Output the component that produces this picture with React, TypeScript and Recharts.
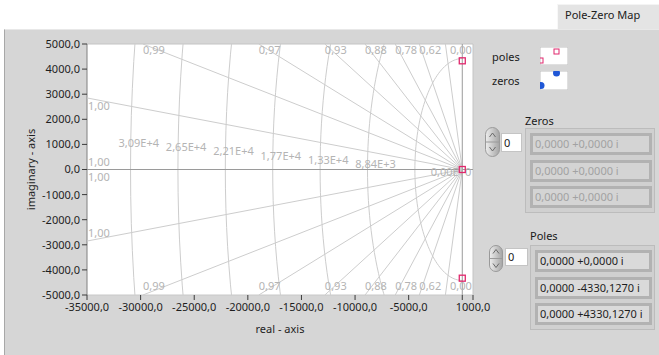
import React from "react";
import {
  ScatterChart,
  Scatter,
  XAxis,
  YAxis,
  CartesianGrid,
  ReferenceLine,
} from "recharts";

// poles / zeros of the system
const POLE_RE = [0, 0, 0];
const POLE_IM = [0, -4330.127, 4330.127];
const ZERO_TEXT = ["0,0000 +0,0000 i", "0,0000 +0,0000 i", "0,0000 +0,0000 i"];
const POLE_TEXT = ["0,0000 +0,0000 i", "0,0000 -4330,1270 i", "0,0000 +4330,1270 i"];

// constant damping ratio grid (radial lines) and their labels
const DAMPING = [1, 0.9967, 0.9862, 0.967, 0.9316, 0.8757, 0.781, 0.625, 0.3, 0];
const DAMPING_LABELS = ["1,00", "1,00", "0,99", "0,97", "0,93", "0,88", "0,78", "0,62", "", "0,00"];

// constant natural frequency grid (arcs)
const FREQ_RADII = [4420, 8840, 13260, 17680, 22100, 26520, 30940];
const FREQ_LABELLED = [0, 8840, 13260, 17680, 22100, 26520, 30940];

const X_TICKS = [-35000, -30000, -25000, -20000, -15000, -10000, -5000, 0, 1000];
const Y_TICKS = [-5000, -4000, -3000, -2000, -1000, 0, 1000, 2000, 3000, 4000, 5000];

const X_MIN = -35000;
const X_MAX = 1000;
const Y_MIN = -5000;
const Y_MAX = 5000;

const GRID = "#cdcdcd";
const AXIS0 = "#9a9a9a";
const GRID_TEXT = "#b4b4b4";
const POLE_COLOR = "#e0276c";
const PANEL = "#d6d6d6";

const fmt = (v: number) => v.toFixed(1).replace(".", ",");
const fmtExp = (v: number) => {
  const [m, e] = v.toExponential(2).split("e");
  return `${m.replace(".", ",")}E${e}`;
};

// where a damping line leaves the plot
function dampingEnd(z: number) {
  const th = Math.acos(z);
  const c = Math.cos(th);
  const s = Math.sin(th);
  const tx = c > 1e-9 ? -X_MIN / c : Infinity;
  const ty = s > 1e-9 ? Y_MAX / s : Infinity;
  const t = Math.min(tx, ty);
  return { x: -t * c, y: t * s, edge: ty <= tx ? "tb" : "left" };
}

function arcPoints(r: number) {
  const pts = [];
  for (let a = 90; a <= 270; a += 2) {
    const rad = (a * Math.PI) / 180;
    pts.push({ x: r * Math.cos(rad), y: r * Math.sin(rad) });
  }
  return pts;
}

const NoDot = () => <g />;

const PLOT_RIGHT = 473;

function DampLabel(props: any) {
  const { cx, cy, payload } = props;
  if (!payload.text) return <g />;
  let x = cx + 1;
  let y = cy;
  if (payload.edge === "tb") {
    x = Math.min(cx, PLOT_RIGHT - 23);
    y = payload.upper ? cy + 10 : cy - 5;
  } else if (payload.axis) {
    y = payload.upper ? cy - 4 : cy + 11;
  } else {
    y = payload.upper ? cy + 12 : cy - 4;
  }
  return (
    <text x={x} y={y} fill={GRID_TEXT} fontSize={11}>
      {payload.text}
    </text>
  );
}

function FreqLabel(props: any) {
  const { cx, cy, payload } = props;
  const x = Math.min(cx + 8, PLOT_RIGHT - 22);
  return (
    <text x={x} y={cy + 6.5} fill={GRID_TEXT} fontSize={11} textAnchor="middle">
      {payload.text}
    </text>
  );
}

function PoleMark(props: any) {
  const { cx, cy } = props;
  return (
    <rect x={cx - 3} y={cy - 3} width={6} height={6} fill="none" stroke={POLE_COLOR} strokeWidth={1.3} />
  );
}

function Spinner({ w, h }: { w: number; h: number }) {
  return (
    <svg width={w} height={h} style={{ display: "block" }}>
      <defs>
        <linearGradient id={`sg${w}${h}`} x1="0" x2="1" y1="0" y2="0">
          <stop offset="0" stopColor="#eeeeee" />
          <stop offset="1" stopColor="#a4a4a4" />
        </linearGradient>
      </defs>
      <rect x={0.5} y={0.5} width={w - 1} height={h - 1} rx={(w - 1) / 2} fill={`url(#sg${w}${h})`} stroke="#9a9a9a" />
      <line x1={1} x2={w - 1} y1={h / 2} y2={h / 2} stroke="#9a9a9a" />
      <path d={`M${w / 2 - 3} ${h / 2 - 5} L${w / 2} ${h / 2 - 9} L${w / 2 + 3} ${h / 2 - 5}`} fill="none" stroke="#6a6a6a" />
      <path d={`M${w / 2 - 3} ${h / 2 + 5} L${w / 2} ${h / 2 + 9} L${w / 2 + 3} ${h / 2 + 5}`} fill="none" stroke="#6a6a6a" />
    </svg>
  );
}

function Cell({ left, top, width, text, dim }: { left: number; top: number; width: number; text: string; dim?: boolean }) {
  return (
    <div
      style={{
        position: "absolute",
        left,
        top,
        width: width - 6,
        height: 22 - 6,
        border: "3px solid #b2b2b2",
        background: dim ? "#d4d4d4" : "#dadada",
        color: dim ? "#a2a2a2" : "#1e1e1e",
        fontSize: 11,
        lineHeight: "16px",
        textIndent: 2,
        whiteSpace: "nowrap",
      }}
    >
      {text}
    </div>
  );
}

export default function App() {
  const damp = DAMPING.map((z, i) => ({ z, text: DAMPING_LABELS[i], ...dampingEnd(z) }));

  const dampLabels = damp.flatMap((d) => [
    { x: d.x, y: d.y, text: d.text, edge: d.edge, upper: true, axis: d.z === 1 },
    { x: d.x, y: -d.y, text: d.text, edge: d.edge, upper: false, axis: d.z === 1 },
  ]);

  const alpha = (2.13 * Math.PI) / 180;
  const freqLabels = FREQ_LABELLED.map((r) => ({
    x: -r * Math.cos(alpha),
    y: r * Math.sin(alpha),
    text: fmtExp(r),
  }));

  const poles = POLE_RE.map((re, i) => ({ x: re, y: POLE_IM[i] }));

  const txt = { position: "absolute" as const, fontSize: 11, color: "#1a1a1a", whiteSpace: "nowrap" as const };

  return (
    <div
      style={{
        position: "fixed",
        left: 0,
        top: 0,
        width: 659,
        height: 355,
        background: "#ffffff",
        overflow: "hidden",
        fontFamily: "'Noto Sans', sans-serif",
      }}
    >
      {/* tab */}
      <div
        style={{
          position: "absolute",
          left: 557,
          top: 4,
          width: 102,
          height: 26,
          background: "#e4e4e4",
          borderTop: "1px solid #f4f4f4",
          borderLeft: "1px solid #f8f8f8",
          boxSizing: "border-box",
        }}
      />
      <div style={{ ...txt, left: 565, top: 7, color: "#202020" }}>Pole-Zero Map</div>
      {/* panel */}
      <div
        style={{
          position: "absolute",
          left: 4,
          top: 29,
          width: 655,
          height: 326,
          background: PANEL,
          borderLeft: "1px solid #a8a8a8",
          borderTop: "1px solid #e8e8e8",
          boxSizing: "border-box",
        }}
      />

      <div style={{ position: "absolute", left: 0, top: 0 }}>
        <ScatterChart width={500} height={338} margin={{ top: 44, right: 27, bottom: 5, left: 7 }}>
          <CartesianGrid fill="#ffffff" horizontal={false} vertical={false} />
          <XAxis
            type="number"
            dataKey="x"
            domain={[X_MIN, X_MAX]}
            ticks={X_TICKS}
            interval={0}
            allowDataOverflow
            tickFormatter={(v: number) => (v === 0 ? "" : fmt(v))}
            tick={{ fill: "#1e1e1e", fontSize: 11 }}
            tickSize={5}
            tickMargin={3}
            axisLine={{ stroke: "#c8c8c8" }}
            tickLine={{ stroke: "#3a3a3a" }}
            height={38}
            label={{ value: "real - axis", position: "insideBottom", offset: 0, fill: "#1e1e1e", fontSize: 11 }}
          />
          <YAxis
            type="number"
            dataKey="y"
            domain={[Y_MIN, Y_MAX]}
            ticks={Y_TICKS}
            interval={0}
            allowDataOverflow
            tickFormatter={fmt}
            tick={{ fill: "#1e1e1e", fontSize: 11 }}
            tickSize={5}
            axisLine={{ stroke: "#808080" }}
            tickLine={{ stroke: "#3a3a3a" }}
            width={80}
            label={{
              value: "imaginary - axis",
              angle: -90,
              position: "insideLeft",
              offset: 24,
              fill: "#1e1e1e",
              fontSize: 11,
              style: { textAnchor: "middle" },
            }}
          />
          <ReferenceLine y={Y_MAX} stroke="#c4c4c4" />
          <ReferenceLine x={X_MAX} stroke="#c4c4c4" />

          {FREQ_RADII.map((r) => (
            <Scatter
              key={`arc${r}`}
              data={arcPoints(r)}
              line={{ stroke: GRID, strokeWidth: 1 }}
              shape={NoDot}
              isAnimationActive={false}
            />
          ))}
          {damp.map((d, i) =>
            [1, -1].map((sgn) => (
              <Scatter
                key={`z${i}${sgn}`}
                data={[
                  { x: 0, y: 0 },
                  { x: d.x, y: sgn * d.y },
                ]}
                line={{ stroke: d.z === 1 || d.z === 0 ? AXIS0 : GRID, strokeWidth: 1 }}
                shape={NoDot}
                isAnimationActive={false}
              />
            )),
          )}
          <Scatter
            data={[
              { x: 0, y: 0 },
              { x: X_MAX, y: 0 },
            ]}
            line={{ stroke: AXIS0, strokeWidth: 1 }}
            shape={NoDot}
            isAnimationActive={false}
          />
          <Scatter data={dampLabels} shape={DampLabel} isAnimationActive={false} />
          <Scatter data={freqLabels} shape={FreqLabel} isAnimationActive={false} />
          <Scatter data={poles} shape={PoleMark} isAnimationActive={false} />
        </ScatterChart>
      </div>

      {/* legend */}
      <div style={{ ...txt, left: 492, top: 49 }}>poles</div>
      <div style={{ ...txt, left: 492, top: 73 }}>zeros</div>
      <svg style={{ position: "absolute", left: 540, top: 47 }} width={28} height={18}>
        <rect x={0} y={0} width={28} height={18} fill="#ffffff" stroke="#c0c0c0" />
        <rect x={14} y={2} width={5} height={5} fill="none" stroke={POLE_COLOR} />
        <rect x={-2} y={11} width={5} height={5} fill="none" stroke={POLE_COLOR} />
      </svg>
      <svg style={{ position: "absolute", left: 540, top: 71 }} width={28} height={19}>
        <rect x={0} y={0} width={28} height={19} fill="#ffffff" stroke="#c0c0c0" />
        <circle cx={16.5} cy={2} r={3.5} fill="#1f57d6" />
        <circle cx={1} cy={14.5} r={3.5} fill="#1f57d6" />
      </svg>

      {/* zeros array */}
      <div style={{ ...txt, left: 525, top: 113 }}>Zeros</div>
      <div style={{ position: "absolute", left: 485, top: 127 }}>
        <Spinner w={15} h={30} />
      </div>
      <div
        style={{
          ...txt,
          left: 501,
          top: 133,
          width: 19,
          height: 17,
          background: "#ffffff",
          border: "1px solid #c4c4c4",
          lineHeight: "17px",
          textIndent: 2,
        }}
      >
        0
      </div>
      <div
        style={{
          position: "absolute",
          left: 525,
          top: 128,
          width: 130,
          height: 85,
          border: "1px solid #bcbcbc",
          boxSizing: "border-box",
          background: "#d0d0d0",
        }}
      />
      {ZERO_TEXT.map((t, i) => (
        <Cell key={`zc${i}`} left={530} top={133 + i * 26.7} width={122} text={t} dim />
      ))}

      {/* poles array */}
      <div style={{ ...txt, left: 530, top: 228 }}>Poles</div>
      <div style={{ position: "absolute", left: 489, top: 245 }}>
        <Spinner w={14} h={27} />
      </div>
      <div
        style={{
          ...txt,
          left: 505,
          top: 248,
          width: 21,
          height: 16,
          background: "#ffffff",
          border: "1px solid #c4c4c4",
          lineHeight: "16px",
          textIndent: 2,
        }}
      >
        0
      </div>
      <div
        style={{
          position: "absolute",
          left: 530,
          top: 245,
          width: 125,
          height: 85,
          border: "1px solid #bcbcbc",
          boxSizing: "border-box",
          background: "#d0d0d0",
        }}
      />
      {POLE_TEXT.map((t, i) => (
        <Cell key={`pc${i}`} left={535} top={250 + i * 26.7} width={117} text={t} />
      ))}
    </div>
  );
}
